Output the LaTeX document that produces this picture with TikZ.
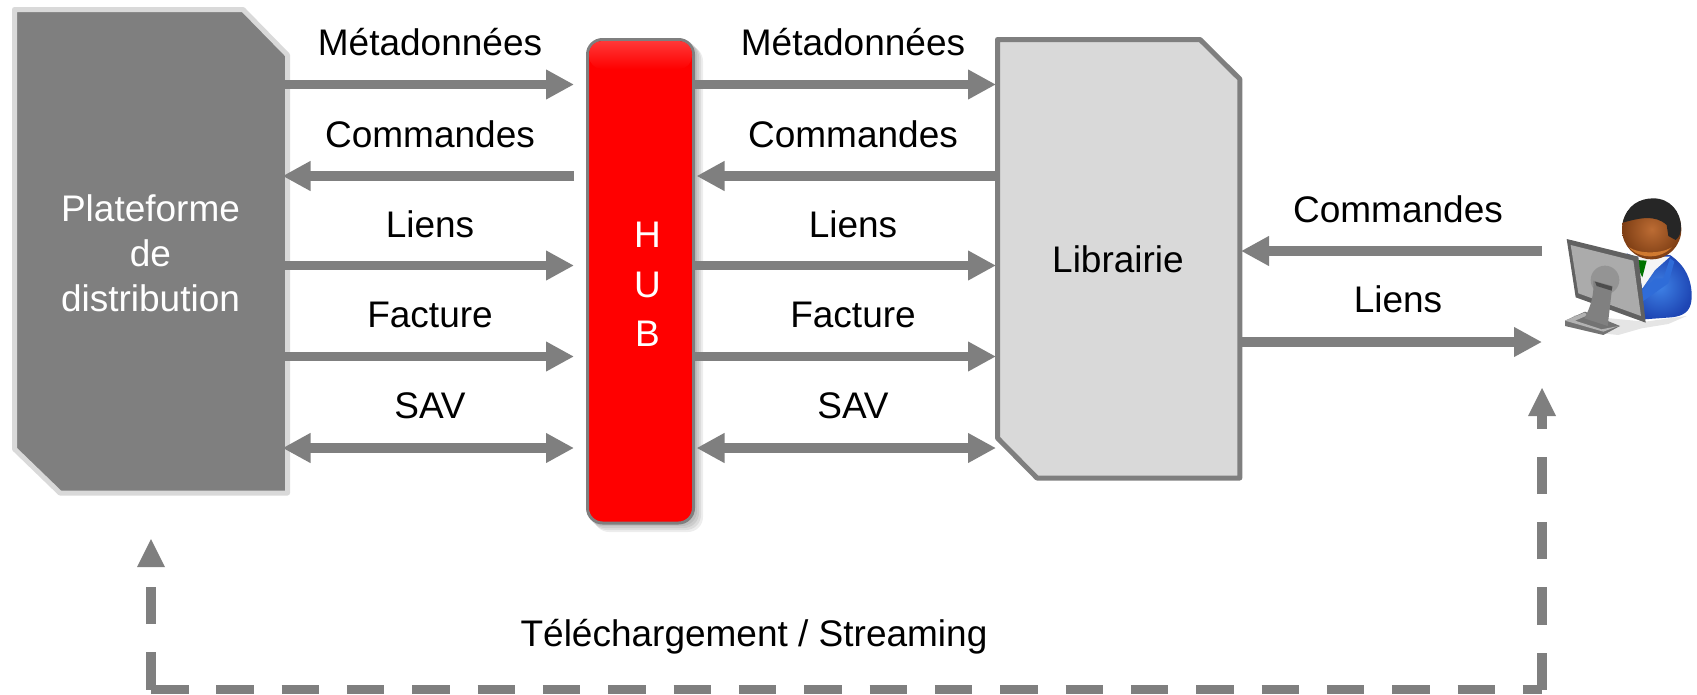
\documentclass[tikz,border=0pt]{standalone}
\usepackage{fontspec}
\setmainfont{Liberation Sans}
\usetikzlibrary{arrows.meta}
\definecolor{ag}{HTML}{7F7F7F}
\definecolor{lg}{HTML}{D9D9D9}
\definecolor{faceA}{HTML}{BC6C34}
\definecolor{faceB}{HTML}{7E3E14}
\definecolor{faceC}{HTML}{D07A30}
\definecolor{bodyA}{HTML}{3F82E6}
\definecolor{bodyB}{HTML}{1E46B4}
\definecolor{bodyC}{HTML}{2F6CD8}
\tikzset{
 lab/.style={font=\fontsize{37}{44}\selectfont,text=black,inner sep=0pt,anchor=base,align=center},
 conn/.style={draw=ag,line width=9.5pt,-{Triangle[length=28pt,width=28pt,fill=ag]}},
 bidir/.style={draw=ag,line width=9.5pt,{Triangle[length=28pt,width=28pt,fill=ag]}-{Triangle[length=28pt,width=28pt,fill=ag]}},
 dashconn/.style={draw=ag,line width=9.5pt,dash pattern=on 37.5pt off 27.83pt},
}
\begin{document}
\begin{tikzpicture}[x=1pt,y=-1pt]
\useasboundingbox (0,0) rectangle (1697,694);
% blocks
\path[fill=ag,draw=lg,line width=5pt,line join=round] (14.5,9.5) -- (243,9.5) -- (287.5,55) -- (287.5,493) -- (60,493) -- (14.5,449) -- cycle;
\node[font=\fontsize{37}{45}\selectfont,text=white,align=center,inner sep=0pt] (plat) at (150.5,253) {Plateforme\\de\\distribution};
% hub
\foreach \o in {2,4,6,8}{\fill[black,opacity=.07,rounded corners=15pt] (586+\o,38+\o) rectangle (695+\o,524+\o);}
\path[fill=red,draw=ag,line width=3pt,rounded corners=15pt] (587.5,39.5) rectangle (693.5,523);
\shade[top color=red!78!white,middle color=red,bottom color=red,rounded corners=13pt] (589,41) rectangle (692,69);
\node[font=\fontsize{37}{49.5}\selectfont,text=white,align=center,inner sep=0pt] (hub) at (647.5,284.5) {H\\U\\B};
% librairie
\path[fill=lg,draw=ag,line width=5pt,line join=round] (997.5,39.5) -- (1200,39.5) -- (1239.8,79) -- (1239.8,478) -- (1037,478) -- (997.5,438) -- cycle;
\node[lab,anchor=center] (lib) at (1118,259) {Librairie};
% connectors
\coordinate (pa) at (285,84.5); \coordinate (pb) at (282.5,176); \coordinate (pc) at (285,265.5); \coordinate (pd) at (285,356.5); \coordinate (pe) at (282.5,448);
\coordinate (ha) at (574,84.5); \coordinate (hb) at (574,176); \coordinate (hc) at (574,265.5); \coordinate (hd) at (574,356.5); \coordinate (he) at (574,448);
\coordinate (ra) at (695,84.5); \coordinate (rb) at (696.5,176); \coordinate (rc) at (695,265.5); \coordinate (rd) at (695,356.5); \coordinate (re) at (696.5,448);
\coordinate (la) at (996,84.5); \coordinate (lb) at (996,176); \coordinate (lc) at (996,265.5); \coordinate (ld) at (996,356.5); \coordinate (le) at (996,448);
\draw[conn] (pa) -- (ha);
\draw[conn] (hb) -- (pb);
\draw[conn] (pc) -- (hc);
\draw[conn] (pd) -- (hd);
\draw[bidir] (pe) -- (he);
\draw[conn] (ra) -- (la);
\draw[conn] (lb) -- (rb);
\draw[conn] (rc) -- (lc);
\draw[conn] (rd) -- (ld);
\draw[bidir] (re) -- (le);
% right
\coordinate (ua) at (1542,251); \coordinate (ub) at (1241,251); \coordinate (uc) at (1241,342); \coordinate (ud) at (1542,342);
\draw[conn] (ua) -- (ub);
\draw[conn] (uc) -- (ud);
% dashed loop
\coordinate (da) at (1542,416); \coordinate (db) at (1542,690); \coordinate (dc) at (151,689.5); \coordinate (dd) at (151,567); \coordinate (de) at (1542,689.5);
\draw[dashconn] (db) -- (da);
\draw[dashconn] (dc) -- (de);
\draw[dashconn] (dc) -- (dd);
\fill[ag] (1542,388) -- (1556,416) -- (1528,416) -- cycle;
\fill[ag] (151,539) -- (165,567) -- (137,567) -- cycle;
% labels
\node[lab] (t1) at (430,55) {Métadonnées};
\node[lab] (t2) at (430,147) {Commandes};
\node[lab] (t3) at (430,237) {Liens};
\node[lab] (t4) at (430,327) {Facture};
\node[lab] (t5) at (430,418) {SAV};
\node[lab] (t6) at (853,55) {Métadonnées};
\node[lab] (t7) at (853,147) {Commandes};
\node[lab] (t8) at (853,237) {Liens};
\node[lab] (t9) at (853,327) {Facture};
\node[lab] (t10) at (853,418) {SAV};
\node[lab] (t11) at (1398,222) {Commandes};
\node[lab] (t12) at (1398,312) {Liens};
\node[lab] (t13) at (754,646) {Téléchargement / Streaming};
% person at computer
\begin{scope}[shift={(1555,190)},x=0.3333pt,y=-0.3333pt]
 % ground shadow
 \fill[black!10] (30,400) -- (60,375) -- (270,395) -- (395,378) -- (340,402) -- (260,415) -- (190,435) -- (120,428) -- cycle;
 % body
 \shade[inner color=bodyA,outer color=bodyB] (215,190) -- (240,200) -- (345,195) .. controls (390,225) and (412,270) .. (410,325) .. controls (408,365) and (385,378) .. (350,382) -- (268,388) -- (245,250) -- cycle;
 \fill[black!4] (240,200) -- (345,200) -- (300,240) -- (262,295) -- (250,240) -- cycle;
 \fill[green!45!black] (243,210) -- (275,212) -- (262,262) -- (254,245) -- cycle;
 \fill[bodyC] (345,205) -- (358,215) -- (340,280) -- (262,335) -- (262,300) -- (300,265) -- (325,265) -- cycle;
 % head
 \shade[inner color=faceA,outer color=faceB] (290,118) circle[x radius=89,y radius=90];
 \fill[faceC] (222,172) .. controls (252,208) and (318,208) .. (350,172) .. controls (318,192) and (252,192) .. (222,172) -- cycle;
 \fill[black!85] (203,98) .. controls (215,45) and (255,25) .. (295,25) .. controls (345,25) and (378,65) .. (378,112) .. controls (378,130) and (372,142) .. (362,150) -- (340,138) -- (335,105) .. controls (300,72) and (250,85) .. (203,98) -- cycle;
 % stand base
 \fill[black!55] (30,392) -- (90,365) -- (195,408) -- (145,435) -- (30,408) -- cycle;
 \fill[black!30] (30,392) -- (88,368) -- (100,375) -- (60,392) -- (140,418) -- (190,408) -- (145,425) -- cycle;
 % monitor
 \fill[black!62] (35,147) -- (250,200) -- (272,398) -- (62,322) -- cycle;
 \fill[black!33] (47,165) -- (235,212) -- (258,378) -- (70,310) -- cycle;
 \fill[black!42] (150,270) circle[radius=43];
 \fill[black!50] (115,272) -- (172,288) -- (158,408) -- (88,385) .. controls (108,350) and (118,310) .. (115,272) -- cycle;
 \fill[black!70] (120,275) -- (172,290) -- (170,302) -- (125,288) -- cycle;
\end{scope}
\end{tikzpicture}
\end{document}
